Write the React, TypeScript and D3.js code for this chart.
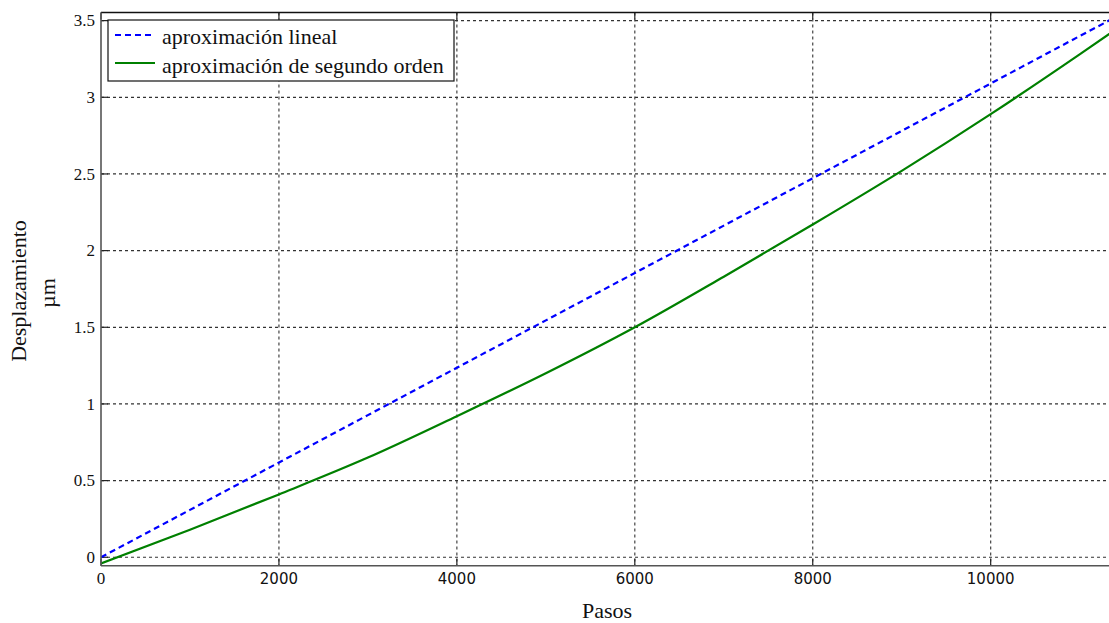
import React from "react";
import * as d3 from "d3";

const steps = [0, 1000, 2000, 3000, 4000, 5000, 6000, 7000, 8000, 9000, 10000, 11000, 11400];
const linearValues = [0, 0.309, 0.618, 0.927, 1.236, 1.545, 1.854, 2.163, 2.472, 2.781, 3.09, 3.399, 3.522];
const quadValues = [-0.04, 0.18, 0.41, 0.65, 0.92, 1.2, 1.5, 1.83, 2.17, 2.52, 2.89, 3.28, 3.44];
const xTicks = [0, 2000, 4000, 6000, 8000, 10000];
const yTicks = [0, 0.5, 1, 1.5, 2, 2.5, 3, 3.5];
const seriesNames = ["aproximación lineal", "aproximación de segundo orden"];

const W = 1109, H = 623;
const L = 101, T = 12.5, B = 565.7, R = 1109;

export default function App() {
  const x = d3.scaleLinear().domain([0, 11330]).range([L, R]);
  const y = d3.scaleLinear().domain([-0.055, 3.553]).range([B, T]);
  const line = d3.line<number>().curve(d3.curveMonotoneX).x((_, i) => x(steps[i])).y((d) => y(d));
  const serif = "'Liberation Serif', 'Times New Roman', serif";
  const sans = "'DejaVu Sans', Verdana, sans-serif";
  return (
    <svg width={W} height={H} style={{ position: "absolute", left: 0, top: 0, background: "#fff" }}>
      <defs>
        <clipPath id="plot">
          <rect x={L} y={T} width={R + 10 - L} height={B - T} />
        </clipPath>
      </defs>
      <rect x={0} y={0} width={W} height={H} fill="#fff" />
      {/* grid */}
      {xTicks.filter((t) => t > 0).map((t) => (
        <line key={"gx" + t} x1={x(t)} x2={x(t)} y1={T} y2={B} stroke="#444" strokeWidth={1.2} strokeDasharray="3,3" />
      ))}
      {yTicks.map((t) => (
        <line key={"gy" + t} x1={L} x2={R + 10} y1={y(t)} y2={y(t)} stroke="#333" strokeWidth={1.2} strokeDasharray="3,3" />
      ))}
      {/* ticks */}
      {yTicks.map((t) => (
        <line key={"ty" + t} x1={L} x2={L + 7} y1={y(t)} y2={y(t)} stroke="#222" strokeWidth={1.2} />
      ))}
      {xTicks.map((t) => (
        <g key={"tx" + t}>
          <line x1={x(t)} x2={x(t)} y1={B} y2={B - 7} stroke="#222" strokeWidth={1.2} />
          <line x1={x(t)} x2={x(t)} y1={T} y2={T + 7} stroke="#222" strokeWidth={1.2} />
        </g>
      ))}
      {/* data */}
      <g clipPath="url(#plot)">
        <path d={line(linearValues) || ""} fill="none" stroke="#0000ff" strokeWidth={2.2} strokeDasharray="6,4" />
        <path d={line(quadValues) || ""} fill="none" stroke="#008000" strokeWidth={2.2} />
      </g>
      {/* frame */}
      <line x1={L} x2={R + 10} y1={T} y2={T} stroke="#111" strokeWidth={1.3} />
      <line x1={L} x2={L} y1={T} y2={B} stroke="#555" strokeWidth={1.6} />
      <line x1={L} x2={R + 10} y1={B} y2={B} stroke="#555" strokeWidth={1.6} />
      {/* tick labels */}
      {yTicks.map((t) => (
        <text key={"ly" + t} x={L - 6} y={y(t)} dy="0.34em" textAnchor="end" fontFamily={serif} fontSize={17} fill="#111">
          {String(t)}
        </text>
      ))}
      {xTicks.map((t) => (
        <text key={"lx" + t} x={x(t)} y={584} textAnchor="middle" fontFamily={t === 0 ? serif : sans} fontSize={t === 0 ? 17 : 15} fill="#111">
          {String(t)}
        </text>
      ))}
      {/* axis titles */}
      <text x={607} y={618} textAnchor="middle" fontFamily={serif} fontSize={22} fill="#111">Pasos</text>
      <text transform="translate(26,291) rotate(-90)" textAnchor="middle" fontFamily={serif} fontSize={22} fill="#111">Desplazamiento</text>
      <text transform="translate(55,293) rotate(-90)" textAnchor="middle" fontFamily={serif} fontSize={22} fill="#111">µm</text>
      {/* legend */}
      <rect x={108} y={20} width={346} height={61} fill="#fff" stroke="#111" strokeWidth={1.2} />
      <line x1={115} x2={155} y1={35} y2={35} stroke="#0000ff" strokeWidth={2} strokeDasharray="6,4" />
      <line x1={115} x2={155} y1={63} y2={63} stroke="#008000" strokeWidth={2} />
      <text x={162} y={44} fontFamily={serif} fontSize={22} fill="#111">{seriesNames[0]}</text>
      <text x={162} y={73} fontFamily={serif} fontSize={22} fill="#111">{seriesNames[1]}</text>
    </svg>
  );
}
